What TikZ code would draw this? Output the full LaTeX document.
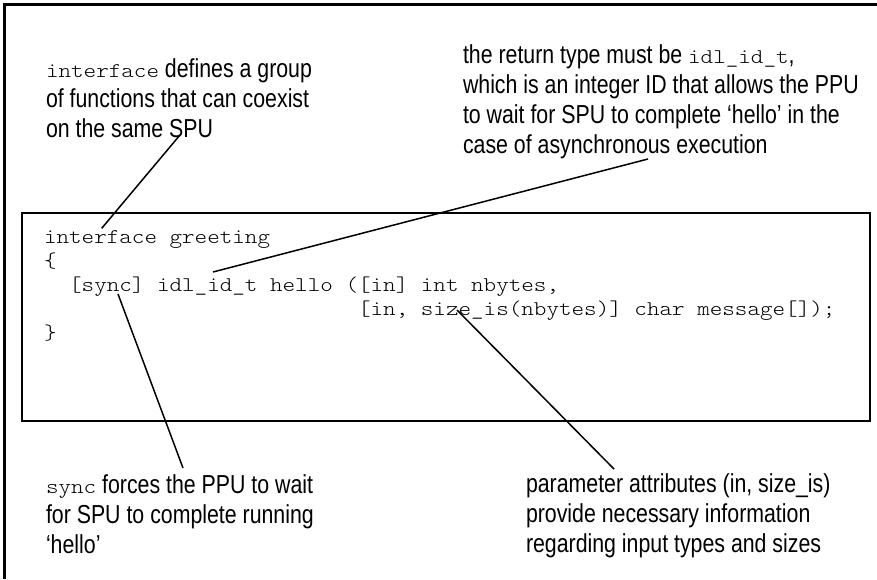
\documentclass[tikz,border=0pt]{standalone}
\usepackage{fontspec}
\newfontfamily\notefont[FakeStretch=0.82]{Liberation Sans}
\newfontfamily\codefont[FakeStretch=1.145]{lmmonolt10-regular.otf}
\newcommand{\cw}[1]{{\codefont\fontsize{20.9}{30}\selectfont #1}}
\begin{document}
\begin{tikzpicture}[x=1pt,y=-1pt,
  note/.style={anchor=base west,inner sep=0pt,outer sep=0pt,
    font=\notefont\fontsize{26}{30}\selectfont},
  code/.style={anchor=base west,inner sep=0pt,outer sep=0pt,
    font=\codefont\fontsize{20.9}{24}\selectfont},
  frame/.style={draw=black,line width=2.2pt},
  leader/.style={draw=black,line width=1.5pt}]
\useasboundingbox (0,0) rectangle (877,579);

% page frame (top and left edges)
\draw[frame,line width=2.5pt] (4.7,579) -- (4.7,4.3) -- (877,4.3);

% code box
\draw[frame] (22,213) rectangle (870,421);

\node[code] (src) at (44,243) {\begin{tabular}[t]{@{}l@{}}
interface greeting\\
\{\\
~~[sync] idl\_id\_t hello ([in] int nbytes,\\
~~~~~~~~~~~~~~~~~~~~~~~~~[in, size\_is(nbytes)] char message[]);\\
\}
\end{tabular}};

% annotations
\node[note] (nIface) at (46,77) {\begin{tabular}[t]{@{}l@{}}
\cw{interface} defines a group\\
of functions that can coexist\\
on the same SPU
\end{tabular}};

\node[note] (nRet) at (463,63) {\begin{tabular}[t]{@{}l@{}}
the return type must be \cw{idl\_id\_t},\\
which is an integer ID that allows the PPU\\
to wait for SPU to complete ‘hello’ in the\\
case of asynchronous execution
\end{tabular}};

\node[note] (nSync) at (46,493) {\begin{tabular}[t]{@{}l@{}}
\cw{sync} forces the PPU to wait\\
for SPU to complete running\\
‘hello’
\end{tabular}};

\node[note] (nParam) at (526,492) {\begin{tabular}[t]{@{}l@{}}
parameter attributes (in, size\_is)\\
provide necessary information\\
regarding input types and sizes
\end{tabular}};

% leader end points
\coordinate (aIfaceNote) at (180,135);
\coordinate (aIfaceCode) at (101.7,228.3);
\coordinate (aRetNote) at (648,159);
\coordinate (aRetCode) at (213,272);
\coordinate (aSyncCode) at (118,294);
\coordinate (aSyncNote) at (183,468);
\coordinate (aParamCode) at (457,310);
\coordinate (aParamNote) at (614,469);

\draw[leader] (aIfaceNote) -- (aIfaceCode);
\draw[leader] (aRetNote) -- (aRetCode);
\draw[leader] (aSyncCode) -- (aSyncNote);
\draw[leader] (aParamCode) -- (aParamNote);
\end{tikzpicture}
\end{document}
